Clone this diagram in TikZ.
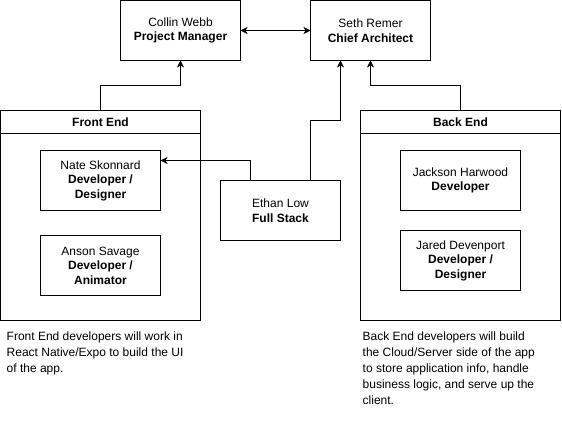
\documentclass[tikz,border=0pt]{standalone}
\usepackage{fontspec}
\setmainfont{Liberation Sans}
\usetikzlibrary{positioning, arrows.meta}
\tikzset{
  >={Stealth[length=7pt,width=7pt,inset=2pt]},
  every node/.style={font=\fontsize{12pt}{14.5pt}\selectfont},
  person/.style={draw, line width=1pt, outer sep=0pt, minimum width=120pt, minimum height=60pt, inner sep=0pt, align=center},
  group/.style={draw, line width=1pt, outer sep=0pt, minimum width=200pt, minimum height=210pt, inner sep=0pt},
  grouphead/.style={draw, line width=1pt, outer sep=0pt, minimum width=200pt, minimum height=23pt, inner sep=0pt, font=\fontsize{12pt}{15pt}\selectfont\bfseries},
  note/.style={anchor=north west, align=left, inner sep=0pt, font=\fontsize{12pt}{16pt}\selectfont},
  link/.style={->, line width=1pt},
}

\begin{document}
\begin{tikzpicture}[x=1pt, y=-1pt]
  \useasboundingbox (-0.5,-0.5) rectangle (561.5,440.5);

  \node[person] (collin) at (180,30) {Collin Webb\\\textbf{Project Manager}};
  \node[person, right=70pt of collin] (seth) {Seth Remer\\\textbf{Chief Architect}};

  \node[group] (frontend) at (100,215) {};
  \node[grouphead, anchor=north] (fehead) at (frontend.north) {Front End};
  \node[group] (backend) at (460,215) {};
  \node[grouphead, anchor=north] (behead) at (backend.north) {Back End};

  \node[person] (nate) at (100,180) {Nate Skonnard\\\textbf{Developer /}\\\textbf{Designer}};
  \node[person, below=25pt of nate] (anson) {Anson Savage\\\textbf{Developer /}\\\textbf{Animator}};
  \node[person] (jackson) at (460,180) {Jackson Harwood\\\textbf{Developer}};
  \node[person, below=20pt of jackson] (jared) {Jared Devenport\\\textbf{Developer /}\\\textbf{Designer}};
  \node[person] (ethan) at (280,210) {Ethan Low\\\textbf{Full Stack}};

  \node[note] (fenote) at (6,331) {Front End developers will work in\\React Native/Expo to build the UI\\of the app.};
  \node[note] (benote) at (362,331) {Back End developers will build\\the Cloud/Server side of the app\\to store application info, handle\\business logic, and serve up the\\client.};

  \draw[link, <->] (collin) -- (seth);
  \draw[link] (frontend.north) -- ++(0,-25) -| (collin.south);
  \draw[link] (backend.north) -- ++(0,-25) -| (seth.south);
  \draw[link] ([xshift=30pt]ethan.north) -- ++(0,-60) -| ([xshift=-30pt]seth.south);
  \draw[link] ([xshift=-30pt]ethan.north) |- ([yshift=20pt]nate.east);
\end{tikzpicture}
\end{document}
